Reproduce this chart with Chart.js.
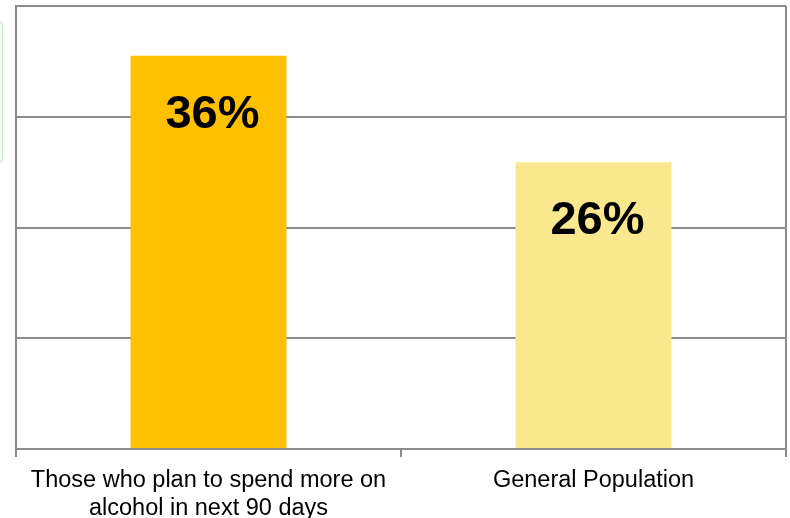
<!DOCTYPE html>
<html>
<head>
<meta charset="utf-8">
<script src="https://cdn.jsdelivr.net/npm/chart.js@4/dist/chart.umd.min.js"></script>
<style>
  html, body { margin: 0; padding: 0; background: #fff; }
  .wrap { position: relative; width: 790px; height: 518px; overflow: hidden; }
  /* edge of a neighbouring shape poking in from the left */
  .side-box { position: absolute; left: -21px; top: 18px; width: 22px; height: 146px;
              border: 1px solid #b5f0b5; border-radius: 9px; }
  canvas { position: absolute; left: 0; top: 0; }
</style>
</head>
<body>
<div class="wrap">
  <div class="side-box"></div>
  <canvas id="chart" width="790" height="518"></canvas>
</div>
<script>
const categories = [
  ["Those who plan to spend more on", "alcohol in next 90 days"],
  "General Population"
];
const shares = [35.5, 25.9];
const barColors = ["#FFC000", "#FAE88F"];
const axisMax = 40;
const axisStep = 10;

// big bold percentage inside each bar
const valueLabels = {
  id: "valueLabels",
  afterDatasetsDraw(chart) {
    const ctx = chart.ctx;
    const meta = chart.getDatasetMeta(0);
    ctx.save();
    ctx.font = "bold 47px 'Liberation Sans', Arial, sans-serif";
    ctx.fillStyle = "#000";
    ctx.textAlign = "center";
    ctx.textBaseline = "middle";
    meta.data.forEach((bar, i) => {
      ctx.fillText(Math.round(shares[i]) + "%", bar.x + 4, bar.y + 59);
    });
    ctx.restore();
  }
};

// right edge of the plot frame
const frameRight = {
  id: "frameRight",
  afterDraw(chart) {
    const a = chart.chartArea;
    const ctx = chart.ctx;
    ctx.save();
    ctx.strokeStyle = "#8c8c8c";
    ctx.lineWidth = 2;
    ctx.beginPath();
    ctx.moveTo(a.right, a.top);
    ctx.lineTo(a.right, a.bottom + 8);
    ctx.stroke();
    ctx.restore();
  }
};

new Chart(document.getElementById("chart"), {
  type: "bar",
  data: {
    labels: categories,
    datasets: [{
      data: shares,
      backgroundColor: barColors,
      borderWidth: 0,
      barPercentage: 0.5,
      categoryPercentage: 0.81,
    }],
  },
  options: {
    responsive: false,
    animation: false,
    layout: { padding: { left: 16, right: 4, top: 6, bottom: 0 } },
    plugins: { legend: { display: false }, tooltip: { enabled: false } },
    scales: {
      x: {
        grid: { offset: true, drawOnChartArea: false, drawTicks: true, tickLength: 8,
                color: "#8c8c8c", lineWidth: 2 },
        border: { display: true, color: "#8c8c8c", width: 2 },
        ticks: { color: "#000", padding: 9,
                 font: { family: "'Liberation Sans', Arial, sans-serif", size: 23.5, lineHeight: 1.2 } },
        afterFit(s) { s.height = 69; },
      },
      y: {
        min: 0,
        max: axisMax,
        ticks: { display: false, stepSize: axisStep },
        grid: { color: "#8c8c8c", lineWidth: 2, drawTicks: false },
        border: { display: true, color: "#8c8c8c", width: 2 },
        afterFit(s) { s.width = 0; },
      },
    },
  },
  plugins: [valueLabels, frameRight],
});
</script>
</body>
</html>
